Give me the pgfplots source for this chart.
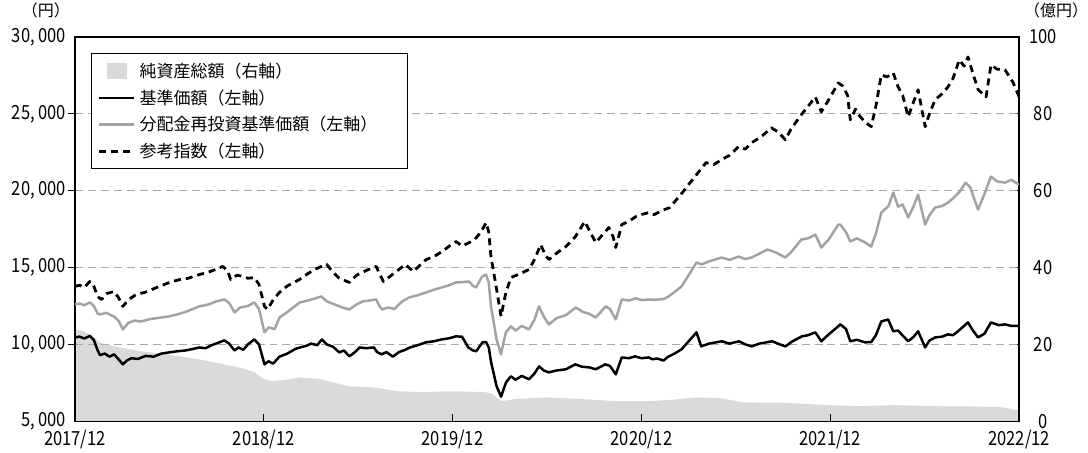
\documentclass[border=0pt]{standalone}
\usepackage{fontspec}
\setmainfont{Noto Sans CJK JP}
\newfontfamily\numfont[FakeStretch=0.85]{Noto Sans CJK JP}
\usepackage{pgfplots}
\pgfplotsset{compat=1.18}
\definecolor{areagray}{HTML}{DADADA}
\definecolor{linegray}{HTML}{A3A3A3}
\definecolor{gridgray}{HTML}{A8A8A8}
\begin{document}
\begin{tikzpicture}
\begin{axis}[
  name=ax1, at={(0,0)}, anchor=south west,
  scale only axis, width=946bp, height=385bp,
  xmin=0, xmax=60, ymin=0, ymax=100,
  axis x line=none, axis y line*=right,
  axis line style={line width=1.3bp, -},
  tick align=inside, major tick length=7bp,
  tick style={line width=1.2bp, black},
  ytick={0,20,40,60,80,100},
  yticklabels={0,20,40,60,80,100},
  yticklabel style={font=\fontsize{19.5bp}{22bp}\numfont, anchor=center, xshift=24bp, inner sep=0bp},
]
\addplot[fill=areagray, draw=none] coordinates {
(0,23.9) (0.5,23.5) (1.0,22.5) (1.6,20.5) (2.5,19.5) (4.2,18.2) (6,17.3) (7.9,16.1)
(9,15.2) (10.4,14.0) (11.4,12.8) (12.0,11.0) (12.5,10.4) (13.5,10.8) (14.3,11.4)
(15.5,11.0) (17.4,9.1) (19,8.8) (20.5,7.8) (22,7.6) (24,7.8) (26,7.6) (26.5,7.2)
(27.1,5.2) (28,5.8) (30,6.2) (32,5.8) (34.5,5.2) (36.5,5.2) (38,5.6) (39.5,6.2)
(41,6.0) (42.5,4.9) (45,4.8) (47.9,4.2) (50,3.9) (52,4.2) (55,3.9) (58,3.8)
(59,3.6) (60,2.8)
} \closedcycle;
\end{axis}
\begin{axis}[
  name=ax2, at={(0,0)}, anchor=south west,
  scale only axis, width=946bp, height=385bp,
  xmin=0, xmax=60, ymin=5000, ymax=30000,
  scaled y ticks=false,
  axis line style={line width=1.3bp},
  xtick pos=lower, ytick pos=left,
  tick align=inside, major tick length=7bp,
  tick style={line width=1.2bp, black},
  y tick style={xshift=-7bp},
  xtick={0,12,24,36,48,60},
  xticklabels={2017/12,2018/12,2019/12,2020/12,2021/12,2022/12},
  ytick={10000,15000,20000,25000},
  yticklabels={{10, 000},{15, 000},{20, 000},{25, 000}},
  extra y ticks={5000,30000},
  extra y tick labels={{5, 000},{30, 000}},
  extra y tick style={major tick length=0pt, ymajorgrids=false},
  ymajorgrids,
  grid style={gridgray, line width=1bp, dash pattern=on 8bp off 5bp},
  xticklabel style={font=\fontsize{19.5bp}{22bp}\numfont, inner sep=0bp, yshift=-9bp},
  yticklabel style={font=\fontsize{19.5bp}{22bp}\numfont, inner sep=1.5bp, xshift=-7bp},
  legend cell align=left,
  legend image code/.code={\draw[#1] (0bp,0bp) -- (35bp,0bp);},
  legend style={at={(0.0169,0.958)}, anchor=north west, draw=black, line width=1.3bp,
    inner xsep=6.5bp, inner ysep=7bp, row sep=5.7bp, column sep=2bp,
    font=\fontsize{17bp}{20bp}\selectfont,
    nodes={inner sep=2bp, text height=15bp, text depth=2bp}},
]
\addlegendimage{legend image code/.code={\fill[areagray] (8bp,-7.5bp) rectangle (27bp,7.5bp);}}
\addlegendentry{\makebox[260bp][l]{純資産総額（右軸）}}
% 基準価額
\addplot[black, line width=2.5bp, line join=round] coordinates {
(0,10450) (0.3,10500) (0.6,10380) (0.95,10550) (1.2,10300) (1.45,9600) (1.6,9300)
(1.9,9400) (2.2,9200) (2.5,9350) (2.8,9000) (3.05,8700) (3.3,8950) (3.6,9100)
(4.0,9050) (4.5,9250) (5.0,9200) (5.5,9400) (6.0,9480) (6.5,9550) (7.0,9600)
(7.5,9700) (7.9,9800) (8.3,9750) (8.7,9950) (9.1,10100) (9.5,10260) (9.8,10050)
(10.15,9600) (10.4,9800) (10.7,9650) (11.0,10000) (11.4,10320) (11.7,10000)
(12.05,8700) (12.3,8900) (12.6,8750) (13.0,9200) (13.5,9400) (14.0,9700) (14.3,9800)
(14.7,9900) (15.0,10050) (15.4,9950) (15.7,10320) (16.0,10000) (16.4,9850) (16.8,9480)
(17.1,9600) (17.44,9220) (17.8,9500) (18.1,9800) (18.5,9750) (19.0,9800) (19.2,9500)
(19.5,9350) (19.8,9500) (20.2,9200) (20.6,9500) (21.0,9650) (21.3,9800) (21.8,9950)
(22.3,10130) (22.8,10200) (23.3,10320) (23.8,10400) (24.2,10520) (24.6,10500)
(25.0,9800) (25.3,9600) (25.5,9550) (25.9,10130) (26.13,10150) (26.3,9800)
(26.45,8830) (26.8,7270) (27.08,6600) (27.25,7100) (27.4,7530) (27.7,7920) (28.0,7700)
(28.4,7950) (28.85,7730) (29.2,8100) (29.5,8570) (29.8,8300) (30.1,8180) (30.6,8300)
(31.2,8380) (31.8,8700) (32.2,8550) (32.7,8500) (33.1,8380) (33.7,8700) (34.0,8600)
(34.37,8050) (34.75,9150) (35.2,9100) (35.6,9220) (36.0,9100) (36.46,9150) (36.7,9030)
(37.0,9080) (37.4,8950) (37.7,9200) (38.1,9400) (38.55,9680) (39.0,10200) (39.5,10780)
(39.8,9870) (40.3,10050) (41.1,10200) (41.6,10050) (42.2,10200) (42.6,10000) (43.0,9870)
(43.5,10050) (44.3,10200) (44.8,10000) (45.15,9870) (45.6,10200) (46.2,10520)
(46.6,10600) (47.05,10780) (47.43,10200) (47.9,10650) (48.5,11170) (48.64,11300)
(49.0,11000) (49.27,10200) (49.7,10300) (50.2,10130) (50.6,10150) (50.9,10600)
(51.24,11490) (51.68,11620) (52.0,10850) (52.3,10900) (52.95,10200) (53.3,10500)
(53.58,10850) (54.03,9800) (54.3,10250) (54.66,10450) (55.1,10500) (55.48,10650)
(55.8,10600) (56.12,10850) (56.5,11200) (56.75,11430) (57.0,11000) (57.39,10450)
(57.8,10700) (58.21,11430) (58.7,11250) (59.1,11300) (59.5,11200) (60,11200)
};
\addlegendentry{基準価額（左軸）}
% 分配金再投資基準価額
\addplot[linegray, line width=2.5bp, line join=round] coordinates {
(0,12600) (0.3,12650) (0.6,12550) (0.95,12730) (1.2,12500) (1.45,12000) (1.6,11950)
(2.0,12050) (2.5,11800) (2.8,11500) (3.05,10970) (3.4,11400) (3.8,11550) (4.2,11490)
(4.8,11650) (5.5,11750) (6.0,11820) (6.5,11950) (7.0,12100) (7.5,12300) (7.9,12470)
(8.5,12600) (9.0,12800) (9.5,12920) (9.8,12700) (10.15,12080) (10.5,12400) (11.0,12500)
(11.4,12730) (11.7,12300) (12.05,10780) (12.3,11100) (12.7,11000) (13.0,11750)
(13.5,12100) (14.0,12500) (14.3,12730) (14.8,12850) (15.3,13000) (15.66,13120)
(16.0,12800) (16.5,12600) (17.0,12400) (17.44,12270) (17.9,12600) (18.3,12800)
(18.7,12850) (19.15,12920) (19.35,12500) (19.53,12270) (19.9,12400) (20.3,12300)
(20.8,12800) (21.24,13050) (21.8,13200) (22.32,13380) (22.8,13550) (23.3,13700)
(23.8,13850) (24.22,14030) (24.6,14050) (25.05,14090) (25.3,13800) (25.49,13700)
(25.87,14400) (26.13,14550) (26.3,14000) (26.44,12470) (26.8,10300) (27.08,9350)
(27.25,10200) (27.39,10780) (27.71,11170) (28.0,10900) (28.4,11200) (28.85,10970)
(29.2,11600) (29.49,12470) (29.8,11800) (30.12,11300) (30.6,11700) (31.2,11900)
(31.83,12400) (32.3,12100) (32.66,12000) (33.1,11750) (33.73,12470) (34.0,12300)
(34.37,11620) (34.75,12920) (35.2,12850) (35.64,13000) (36.0,12880) (36.46,12920)
(36.9,12900) (37.41,12950) (37.7,13100) (38.1,13400) (38.55,13770) (39.0,14500)
(39.5,15330) (39.82,15200) (40.3,15400) (41.09,15650) (41.6,15500) (42.17,15710)
(42.6,15550) (42.99,15650) (43.5,15900) (44.0,16170) (44.5,16000) (45.15,15650)
(45.6,16100) (46.16,16820) (46.6,16900) (47.05,17140) (47.43,16300) (47.9,16820)
(48.51,17790) (48.64,17790) (49.0,17300) (49.27,16690) (49.7,16900) (50.22,16620)
(50.6,16360) (50.9,17200) (51.24,18570) (51.7,19000) (52.0,19870) (52.31,18960)
(52.6,19100) (52.95,18250) (53.3,19000) (53.58,19740) (54.03,17790) (54.3,18400)
(54.66,18900) (55.1,19000) (55.48,19220) (55.8,19500) (56.2,19900) (56.6,20520)
(56.9,20200) (57.2,19300) (57.39,18770) (57.8,19800) (58.21,20910) (58.6,20600)
(59.1,20520) (59.5,20700) (60,20400)
};
\addlegendentry{分配金再投資基準価額（左軸）}
% 参考指数
\addplot[black, line width=2.8bp, dash pattern=on 7bp off 5bp, line join=round] coordinates {
(0,13770) (0.3,13850) (0.6,13700) (0.95,14090) (1.2,13800) (1.45,13100) (1.7,12920)
(2.0,13300) (2.5,13440) (2.8,13000) (3.05,12470) (3.4,12900) (3.9,13250) (4.5,13400)
(5.2,13700) (6.02,14030) (6.6,14200) (7.2,14300) (7.93,14550) (8.5,14700) (9.0,14900)
(9.4,15070) (9.7,14800) (9.9,14220) (10.3,14500) (10.7,14420) (11.0,14300)
(11.41,14350) (11.7,13900) (12.05,12470) (12.25,12270) (12.6,12900) (13.0,13380)
(13.5,13800) (14.27,14220) (14.8,14600) (15.3,14900) (15.66,15070) (16.0,15200)
(16.4,14700) (16.8,14300) (17.44,14030) (17.9,14500) (18.5,14800) (19.15,15070)
(19.35,14600) (19.6,14090) (20.0,14400) (20.5,14800) (21.0,15200) (21.5,14740)
(22.32,15520) (22.8,15700) (23.34,16040) (23.8,16400) (24.22,16690) (24.6,16400)
(25.05,16620) (25.4,16820) (25.8,17300) (26.13,17920) (26.3,17300) (26.44,15710)
(26.8,13570) (27.08,11820) (27.25,12700) (27.39,13380) (27.71,14350) (28.3,14600)
(28.85,14870) (29.2,15500) (29.6,16490) (29.9,15800) (30.12,15520) (30.7,16000)
(31.2,16360) (31.8,17000) (32.4,17990) (32.8,17200) (33.1,16620) (33.5,17100)
(33.93,17600) (34.2,17000) (34.37,16300) (34.75,17790) (35.2,18000) (35.64,18310)
(36.0,18450) (36.46,18570) (36.8,18440) (37.3,18700) (37.8,18900) (38.6,19870)
(39.0,20400) (39.6,21170) (40.1,21820) (40.6,21700) (41.09,22010) (41.6,22300)
(42.17,22860) (42.6,22700) (42.99,23110) (43.6,23500) (44.26,24090) (44.7,23800)
(45.15,23310) (45.5,24000) (46.16,24940) (46.6,25500) (47.05,26100) (47.43,25130)
(47.9,25910) (48.51,27010) (48.8,26800) (49.1,26200) (49.27,24610) (49.6,25300)
(49.9,24810) (50.3,24400) (50.6,24160) (50.9,25500) (51.24,27530) (51.6,27400)
(52.0,27660) (52.31,26750) (52.6,26200) (52.95,24810) (53.3,25800) (53.58,26560)
(54.03,24160) (54.3,25000) (54.66,25910) (55.1,26300) (55.48,26750) (55.8,27300)
(56.2,28510) (56.5,28100) (56.75,28700) (57.1,27500) (57.4,26560) (57.9,26100)
(58.21,28180) (58.6,27900) (59.1,27860) (59.6,27070) (60,26100)
};
\addlegendentry{参考指数（左軸）}
\end{axis}
\node[font=\fontsize{16bp}{18bp}\selectfont, inner sep=0pt] at ([xshift=-29bp, yshift=27bp]ax2.north west) {（円）};
\node[font=\fontsize{16bp}{18bp}\selectfont, inner sep=0pt] at ([xshift=37bp, yshift=27bp]ax2.north east) {（億円）};
\path[use as bounding box] (-75bp,-31bp) rectangle (1013bp,422bp);
\end{tikzpicture}
\end{document}
